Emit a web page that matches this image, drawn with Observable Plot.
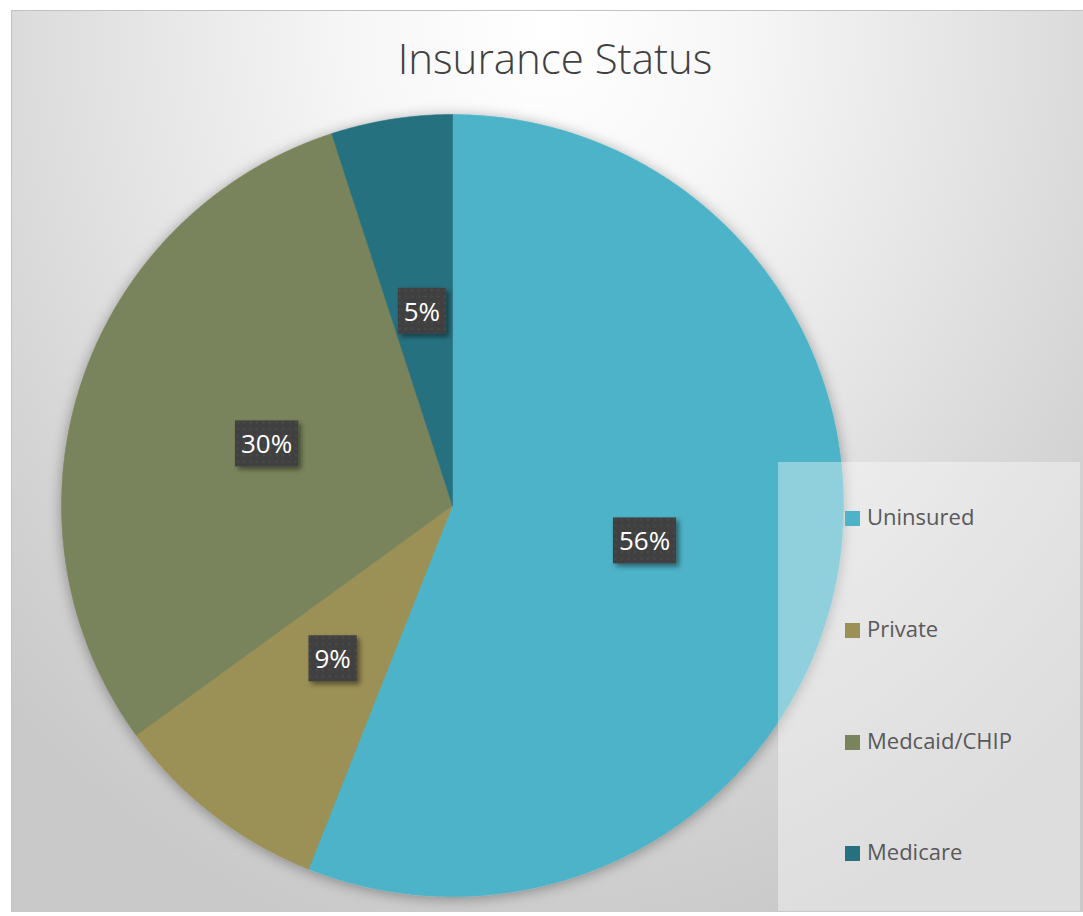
<!DOCTYPE html>
<html>
<head>
<meta charset="utf-8">
<script src="https://cdn.jsdelivr.net/npm/d3@7"></script>
<script src="https://cdn.jsdelivr.net/npm/@observablehq/plot@0.6"></script>
<style>
  html, body { margin: 0; padding: 0; background: #ffffff; }
  #wrap { position: relative; width: 1083px; height: 916px; overflow: hidden; font-family: "Open Sans", sans-serif; }
  #panel { position: absolute; left: 11px; top: 10px; width: 1072px; height: 901px;
    border-top: 1.5px solid #c2c2c2; border-left: 1.5px solid #c2c2c2;
    background: radial-gradient(ellipse 72% 105% at 50% 2%, #ffffff 0%, #f7f7f7 24%, #e4e4e4 55%, #d4d4d4 80%, #c9c9c9 100%); }
  #chart { position: absolute; left: 0; top: 0; }
  #chart svg { background: transparent; }
  #title { position: absolute; left: 0; width: 1110px; top: 29px; text-align: center; font-size: 42px; color: #404040; font-weight: 300; }
  #legendbox { position: absolute; left: 778px; top: 462px; width: 302px; height: 449px; background: rgba(255,255,255,0.38); }
  .item { position: absolute; left: 845px; font-size: 22px; color: #595959; line-height: 1; }
  .item .sw { position: absolute; left: 0; top: 0; width: 15px; height: 15px; }
  .item .tx { position: absolute; left: 22px; top: -6px; white-space: nowrap; }
</style>
</head>
<body>
<div id="wrap">
  <div id="panel"></div>
  <div id="chart"></div>
  <div id="title">Insurance Status</div>
  <div id="legendbox"></div>
  <div id="legend"></div>
</div>
<script>
const categories = ["Uninsured", "Private", "Medcaid/CHIP", "Medicare"];
const shares = [56, 9, 30, 5];
const labels = ["56%", "9%", "30%", "5%"];
const colors = ["#4db3c8", "#9b9055", "#7a845c", "#26717f"];

const rows = categories.map((c, i) => ({category: c, value: shares[i], label: labels[i]}));
const arcs = d3.pie().sort(null).value(d => d.value)(rows);

// polygon outline of each slice in unit-circle data space
const points = [];
for (const a of arcs) {
  const c = a.data.category;
  points.push({category: c, x: 0, y: 0});
  const steps = Math.max(2, Math.ceil((a.endAngle - a.startAngle) / (Math.PI / 720)));
  for (let k = 0; k <= steps; k++) {
    const t = a.startAngle + (a.endAngle - a.startAngle) * k / steps;
    points.push({category: c, x: Math.sin(t), y: Math.cos(t)});
  }
  points.push({category: c, x: 0, y: 0});
}
const labelRows = arcs.map(a => {
  const m = (a.startAngle + a.endAngle) / 2;
  return {label: a.data.label, x: 0.5 * Math.sin(m), y: 0.5 * Math.cos(m)};
});

const plot = Plot.plot({
  width: 1083,
  height: 916,
  margin: 0,
  style: {background: "transparent", fontFamily: "'Open Sans', sans-serif"},
  x: {domain: [-1, 1], range: [61, 843], axis: null},
  y: {domain: [-1, 1], range: [896, 114], axis: null},
  color: {domain: categories, range: colors},
  marks: [
    Plot.line(points, {x: "x", y: "y", z: "category", fill: "category", stroke: "category", strokeWidth: 0.6, curve: "linear"}),
    Plot.text(labelRows, {x: "x", y: "y", text: "label", fill: "#ffffff", fontSize: 26, textAnchor: "middle"})
  ]
});
document.getElementById("chart").appendChild(plot);

// defs: shadows + dotted label pattern
const svg = d3.select(plot);
const defs = svg.insert("defs", ":first-child");
const f1 = defs.append("filter").attr("id", "pieShadow").attr("x", "-10%").attr("y", "-10%").attr("width", "120%").attr("height", "120%");
f1.append("feDropShadow").attr("dx", 0).attr("dy", 2).attr("stdDeviation", 7).attr("flood-color", "#000").attr("flood-opacity", 0.35);
const f2 = defs.append("filter").attr("id", "boxShadow").attr("x", "-30%").attr("y", "-30%").attr("width", "160%").attr("height", "160%");
f2.append("feDropShadow").attr("dx", 3).attr("dy", 3).attr("stdDeviation", 2.5).attr("flood-color", "#000").attr("flood-opacity", 0.45);
const pat = defs.append("pattern").attr("id", "dots").attr("width", 6.5).attr("height", 6.5).attr("patternUnits", "userSpaceOnUse");
pat.append("rect").attr("width", 6.5).attr("height", 6.5).attr("fill", "#404040");
pat.append("rect").attr("x", 2.5).attr("y", 2.5).attr("width", 2).attr("height", 2).attr("fill", "#4c4c4c");

svg.select('g[aria-label="line"]').attr("filter", "url(#pieShadow)");
svg.selectAll('g[aria-label="text"] text').each(function() {
  const bb = this.getBBox();
  const padX = 6, padY = 6;
  const r = d3.select(this.parentNode).insert("rect", () => this)
    .attr("x", bb.x - padX).attr("y", bb.y - padY + 1)
    .attr("width", bb.width + 2 * padX).attr("height", bb.height + 2 * padY - 2)
    .attr("fill", "url(#dots)")
    .attr("filter", "url(#boxShadow)");
  const tf = this.getAttribute("transform");
  if (tf) r.attr("transform", tf);
});

// legend
const legend = document.getElementById("legend");
const legendTop = [511, 623, 735, 846];
categories.forEach((c, i) => {
  const d = document.createElement("div");
  d.className = "item";
  d.style.top = legendTop[i] + "px";
  d.innerHTML = `<div class="sw" style="background:${colors[i]}"></div><div class="tx">${c}</div>`;
  legend.appendChild(d);
});
</script>
</body>
</html>
